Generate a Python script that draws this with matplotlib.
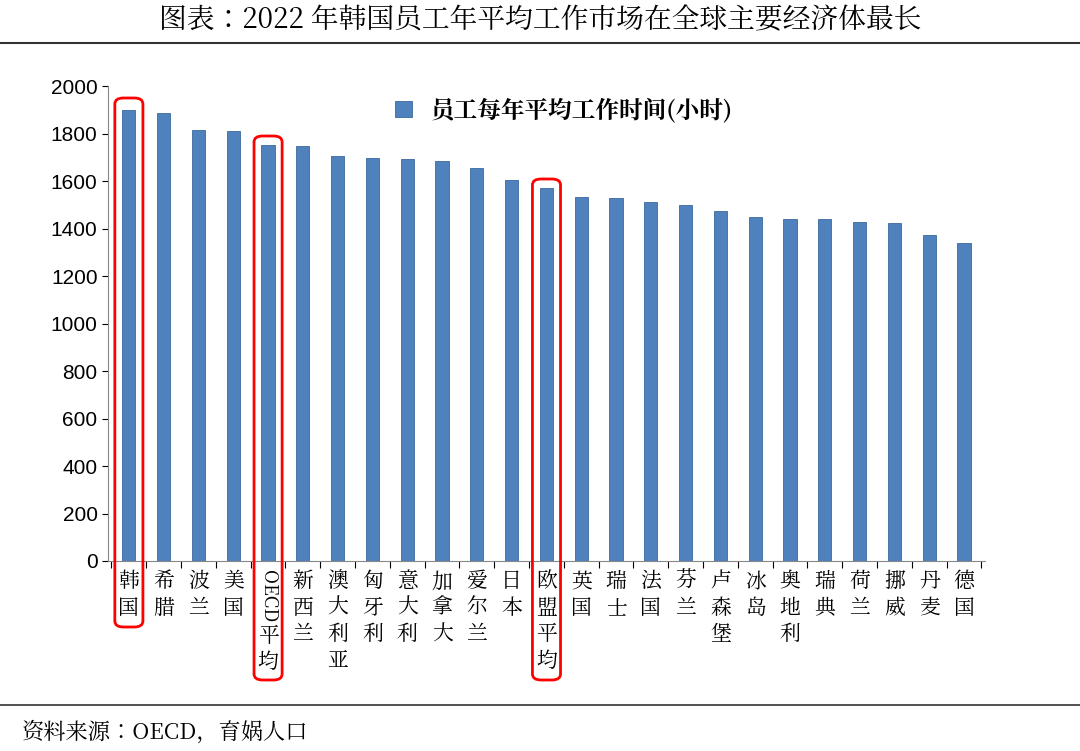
import matplotlib
matplotlib.use("Agg")
import matplotlib.pyplot as plt
import matplotlib.transforms as mtransforms
from matplotlib import font_manager
from matplotlib.patches import FancyBboxPatch
from matplotlib.lines import Line2D

cjk = [f.name for f in font_manager.fontManager.ttflist if "CJK" in f.name]
fam = "Noto Sans CJK SC" if "Noto Sans CJK SC" in cjk else (cjk[0] if cjk else "DejaVu Sans")
plt.rcParams["font.family"] = [fam, "DejaVu Sans"]

countries = ["韩国", "希腊", "波兰", "美国", "OECD平均", "新西兰", "澳大利亚", "匈牙利", "意大利",
             "加拿大", "爱尔兰", "日本", "欧盟平均", "英国", "瑞士", "法国", "芬兰", "卢森堡",
             "冰岛", "奥地利", "瑞典", "荷兰", "挪威", "丹麦", "德国"]
hours = [1901, 1886, 1815, 1811, 1752, 1747, 1707, 1697, 1694, 1686, 1657, 1607, 1571,
         1532, 1528, 1511, 1499, 1473, 1449, 1441, 1440, 1427, 1425, 1372, 1341]
highlight = ["韩国", "OECD平均", "欧盟平均"]
yticks = list(range(0, 2001, 200))

fig = plt.figure(figsize=(10.8, 7.51), dpi=100)
ax = fig.add_axes([0.1, 0.253, 0.812, 0.632])
x = list(range(len(countries)))
ax.bar(x, hours, width=0.38, color="#4F81BD", edgecolor="#3A6A9E", linewidth=0.6,
       label="员工每年平均工作时间(小时)")
ax.set_xlim(-0.6, len(countries) - 0.4)
ax.set_ylim(0, 2000)
ax.set_yticks(yticks)
ax.set_yticklabels([str(v) for v in yticks], fontfamily="Liberation Sans", fontsize=15)
ax.tick_params(axis="y", length=4)
ax.set_xticks([i - 0.5 for i in x] + [len(x) - 0.5])
ax.set_xticklabels([])
ax.tick_params(axis="x", length=5)
for s in ["top", "right"]:
    ax.spines[s].set_visible(False)
ax.spines["left"].set_color("#888")
ax.spines["bottom"].set_color("#888")
ax.legend(loc="upper center", bbox_to_anchor=(0.52, 1.02), frameon=False,
          prop={"weight": "bold", "size": 17}, handlelength=0.7)

trans = mtransforms.blended_transform_factory(ax.transData, ax.transAxes)
step = 0.056
boxes = {"韩国": (98, 627), "OECD平均": (136, 680), "欧盟平均": (179, 680)}
for i, name in enumerate(countries):
    y0 = -0.02
    if name.startswith("OECD"):
        ax.text(i, y0, "OECD", rotation=-90, ha="center", va="top", fontsize=13,
                transform=trans)
        y0 -= 0.115
        name = name[4:]
    for ch in name:
        ax.text(i, y0, ch, ha="center", va="top", fontsize=15, transform=trans)
        y0 -= step
    if countries[i] in highlight:
        rows = boxes[countries[i]]
        xc = ax.transData.transform((i, 0))[0] / 1080
        top = 1 - rows[0] / 751
        bot = 1 - rows[1] / 751
        fig.patches.append(FancyBboxPatch((xc - 0.013, bot), 0.026, top - bot,
                                          boxstyle="round,pad=0,rounding_size=0.008",
                                          transform=fig.transFigure, fill=False,
                                          edgecolor="red", linewidth=2))

fig.text(0.5, 0.972, "图表：2022 年韩国员工年平均工作市场在全球主要经济体最长",
         ha="center", va="center", fontsize=20)
fig.add_artist(Line2D([0, 1], [0.943, 0.943], color="#333", linewidth=1.5,
                      transform=fig.transFigure))
fig.add_artist(Line2D([0, 1], [0.061, 0.061], color="#333", linewidth=1.2,
                      transform=fig.transFigure))
fig.text(0.02, 0.025, "资料来源：OECD，育娲人口", ha="left", va="center",
         fontsize=16, style="italic")

fig.savefig("out.png", dpi=100)
